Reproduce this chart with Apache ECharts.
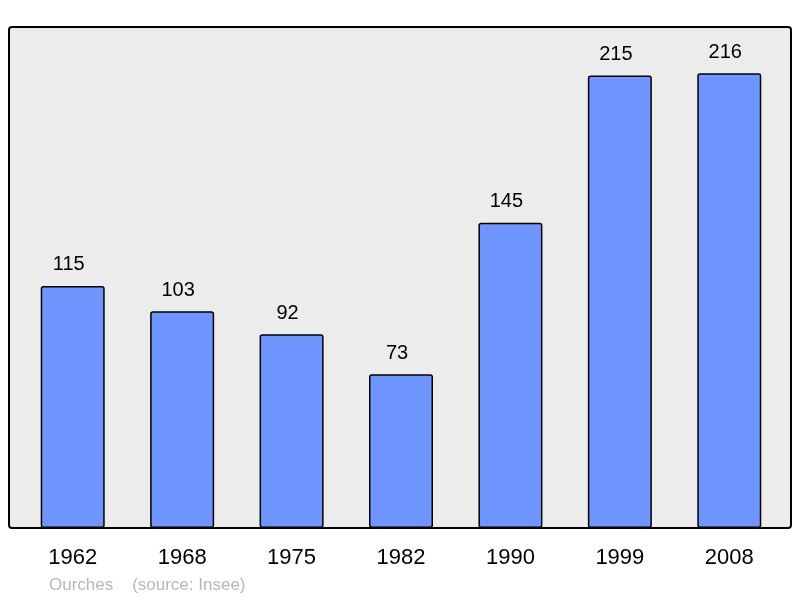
<!DOCTYPE html>
<html>
<head>
<meta charset="utf-8">
<script src="https://cdn.jsdelivr.net/npm/echarts@6/dist/echarts.min.js"></script>
<style>
  html, body { margin: 0; padding: 0; background: #fff; }
  #main { width: 800px; height: 598px; }
</style>
</head>
<body>
<div id="main"></div>
<script>
var years = ['1962', '1968', '1975', '1982', '1990', '1999', '2008'];
var population = [115, 103, 92, 73, 145, 215, 216];
var townName = 'Ourches';
var sourceNote = '(source: Insee)';

var myChart = echarts.init(document.getElementById('main'));

var option = {
    backgroundColor: '#ffffff',
    animation: false,
    graphic: [
        {
            type: 'rect',
            z: -10,
            shape: { x: 9, y: 27, width: 782, height: 501, r: 3 },
            style: { fill: '#ececec', stroke: '#000', lineWidth: 2 }
        },
        {
            type: 'text',
            left: 49,
            top: 577,
            style: {
                text: townName + '    ' + sourceNote,
                fill: '#b8b8b8',
                font: '17px "Liberation Sans", Arial, sans-serif'
            }
        }
    ],
    grid: {
        left: 18,
        right: 16,
        top: 27,
        bottom: 70
    },
    xAxis: {
        type: 'category',
        data: years,
        axisLine: { show: false },
        axisTick: { show: false },
        axisLabel: {
            margin: 19,
            color: '#000',
            fontSize: 22,
            fontFamily: '"Liberation Sans", Arial, sans-serif'
        }
    },
    yAxis: {
        type: 'value',
        min: 0,
        max: 238,
        show: false,
        splitLine: { show: false }
    },
    series: [{
        type: 'bar',
        data: population,
        barWidth: 64,
        itemStyle: {
            color: '#6f96ff',
            borderColor: '#000',
            borderWidth: 1.5,
            borderRadius: 2
        },
        label: {
            show: true,
            position: 'top',
            distance: 11,
            offset: [-4, 0],
            color: '#000',
            fontSize: 20,
            fontFamily: '"Liberation Sans", Arial, sans-serif'
        }
    }]
};

myChart.setOption(option);
</script>
</body>
</html>
